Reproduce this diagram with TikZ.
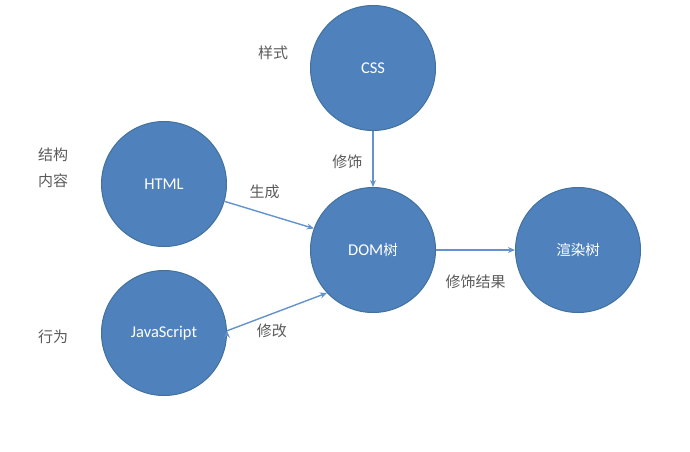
\documentclass[tikz,border=0pt]{standalone}
\usepackage{fontspec}
\setmainfont{Carlito}
\newfontfamily\cjk{Noto Sans CJK SC}
\usetikzlibrary{arrows.meta}

\definecolor{circfill}{HTML}{4F81BD}
\definecolor{circline}{HTML}{41719C}
\definecolor{arrowcol}{HTML}{6392CC}
\definecolor{labelcol}{HTML}{5A5A5A}

\begin{document}
\begin{tikzpicture}[x=1pt,y=-1pt,->,>={Stealth[length=7pt,width=6pt]},thick]
\tikzset{
  page/.style={circle,minimum size=125pt,inner sep=0pt,fill=circfill,draw=circline,line width=1pt,text=white,font=\fontsize{16.5}{18}\selectfont},
  note/.style={text=labelcol,font=\fontsize{15}{17}\selectfont\cjk,inner sep=0pt,align=center},
  link/.style={draw=arrowcol,line width=1.4pt}
}
\useasboundingbox (0,0) rectangle (690,451);

\node[page](css) at (373,68){CSS};
\node[page](html) at (164,184){HTML};
\node[page](dom) at (373,250){DOM{\cjk\fontsize{14.5}{16}\selectfont 树}};
\node[page](render) at (578,250){{\cjk\fontsize{14.5}{16}\selectfont 渲染树}};
\node[page](js) at (164,333){JavaScript};

\node[note](ncss) at (273,53){样式};
\node[note](nhtml) at (53,168){结构\\[9pt]内容};
\node[note](njs) at (53,337){行为};

\path[link](css)edge node[note,left=10pt,pos=0.55]{修饰}(dom)
	(html.-16)edge node[note,above=14pt,pos=0.45]{生成}(dom.160)
	(js.2)edge node[note,below=9pt,pos=0.45]{修改}(dom.223)
	(dom)edge node[note,below=24pt]{修饰结果}(render);

\end{tikzpicture}
\end{document}
